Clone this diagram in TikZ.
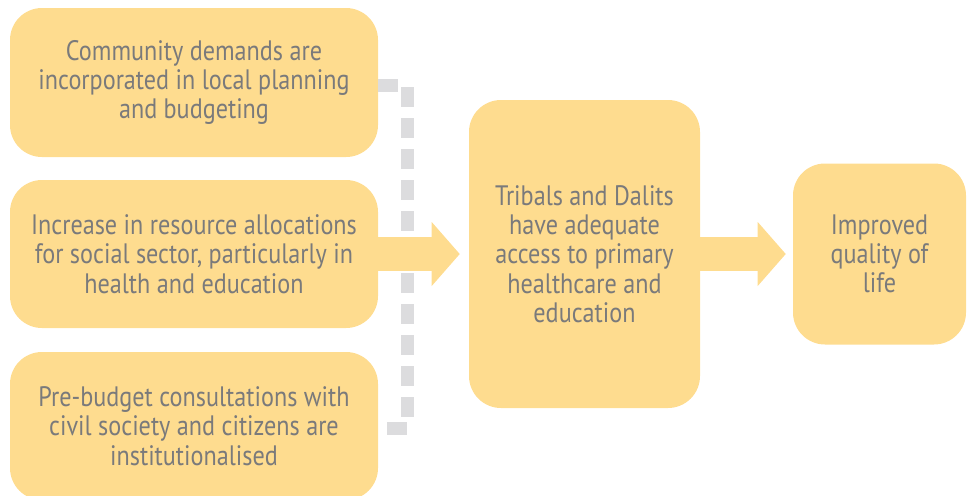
\documentclass[tikz,border=0pt]{standalone}
\usepackage{fontspec}
\setmainfont{PT Sans}[FakeStretch=0.86]
\usetikzlibrary{arrows.meta}
\definecolor{boxfill}{HTML}{FEDC8F}
\definecolor{boxtext}{HTML}{7A7A7B}
\definecolor{dashgray}{HTML}{DCDCDE}
\begin{document}
\begin{tikzpicture}[
    box/.style={fill=boxfill,rounded corners=0.8cm,align=center,text=boxtext,
        font=\fontsize{20}{20.8}\selectfont,inner sep=0pt},
    bigarrow/.style={draw=boxfill,line width=0.85cm,
        -{Triangle[length=0.7cm,width=1.6cm,line width=0pt]}},
    dashline/.style={draw=dashgray,line width=0.325cm,dash pattern=on 0.5cm off 0.275cm}
]
    \useasboundingbox (0,0) rectangle (24.3,-12.375);
    \node[box,minimum width=9.2cm,minimum height=3.725cm] (plan) at (4.85,-2.0625)
        {Community demands are\\incorporated in local planning\\and budgeting};
    \node[box,minimum width=9.2cm,minimum height=3.7cm] (alloc) at (4.85,-6.35)
        {Increase in resource allocations\\for social sector, particularly in\\health and education};
    \node[box,minimum width=9.2cm,minimum height=3.7cm] (consult) at (4.85,-10.65)
        {Pre-budget consultations with\\civil society and citizens are\\institutionalised};
    \node[box,minimum width=5.775cm,minimum height=7.7cm] (access) at (14.6125,-6.35)
        {Tribals and Dalits\\have adequate\\access to primary\\healthcare and\\education};
    \node[box,minimum width=4.325cm,minimum height=4.525cm] (life) at (21.9875,-6.35)
        {Improved\\quality of\\life};
    \coordinate (top) at (10.175,-2.125);
    \coordinate (bottom) at (10.175,-10.7);
    \draw[dashline] ([yshift=-0.0625cm]plan.east) -- (top) -- (bottom) -- (bottom -| consult.east);
    \draw[bigarrow,shorten >=0.225cm] (alloc.east) -- (access.west);
    \draw[bigarrow,shorten >=0.175cm] (access.east) -- (life.west);
\end{tikzpicture}
\end{document}
